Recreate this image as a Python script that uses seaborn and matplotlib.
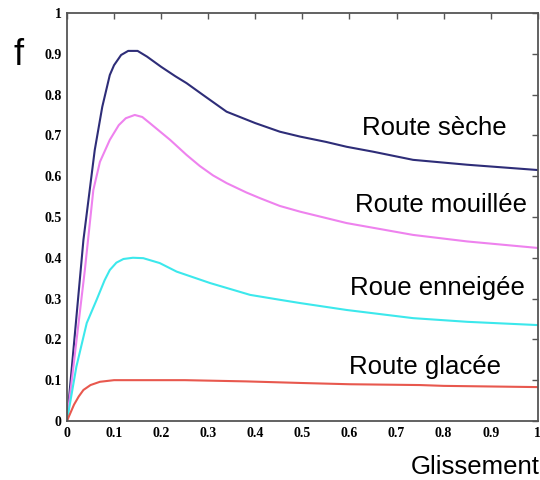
import numpy as np
import pandas as pd
import matplotlib
matplotlib.use('Agg')
import matplotlib.pyplot as plt
import seaborn as sns

# curve points (slip, friction coefficient)
seche_x = [0, 0.035, 0.059, 0.075, 0.091, 0.1, 0.115, 0.13, 0.15, 0.17, 0.2, 0.23, 0.254, 0.289, 0.339,
           0.4, 0.452, 0.495, 0.55, 0.594, 0.65, 0.735, 0.85, 1.0]
seche_y = [0, 0.444, 0.664, 0.77, 0.848, 0.872, 0.897, 0.907, 0.907, 0.893, 0.868, 0.845, 0.828, 0.799, 0.758,
           0.73, 0.709, 0.697, 0.684, 0.672, 0.66, 0.64, 0.628, 0.615]

mouillee_x = [0, 0.038, 0.056, 0.07, 0.091, 0.11, 0.125, 0.144, 0.16, 0.176, 0.219, 0.254, 0.282, 0.31, 0.339,
              0.381, 0.41, 0.452, 0.495, 0.594, 0.735, 0.85, 1.0]
mouillee_y = [0, 0.37, 0.566, 0.635, 0.689, 0.725, 0.742, 0.75, 0.745, 0.73, 0.689, 0.652, 0.625, 0.602, 0.583,
              0.56, 0.546, 0.527, 0.513, 0.485, 0.456, 0.44, 0.424]

neige_x = [0, 0.02, 0.042, 0.063, 0.08, 0.091, 0.105, 0.12, 0.14, 0.162, 0.197, 0.233, 0.304, 0.389,
           0.452, 0.495, 0.594, 0.735, 0.85, 1.0]
neige_y = [0, 0.133, 0.24, 0.297, 0.345, 0.37, 0.388, 0.397, 0.40, 0.399, 0.387, 0.366, 0.338, 0.309,
           0.297, 0.289, 0.272, 0.252, 0.243, 0.235]

glace_x = [0, 0.015, 0.025, 0.035, 0.05, 0.07, 0.1, 0.25, 0.38, 0.5, 0.6, 0.75, 0.8, 1.0]
glace_y = [0, 0.04, 0.06, 0.076, 0.088, 0.096, 0.1, 0.1, 0.097, 0.093, 0.09, 0.088, 0.086, 0.083]

labels = ['Route sèche', 'Route mouillée', 'Roue enneigée', 'Route glacée']
colors = ['#2e2d78', '#ee82ee', '#3ce8ec', '#e8584e']
ticks = [0, 0.1, 0.2, 0.3, 0.4, 0.5, 0.6, 0.7, 0.8, 0.9, 1]
tick_labels = ['0', '0.1', '0.2', '0.3', '0.4', '0.5', '0.6', '0.7', '0.8', '0.9', '1']

frames = []
for name, xs, ys in zip(labels, [seche_x, mouillee_x, neige_x, glace_x],
                        [seche_y, mouillee_y, neige_y, glace_y]):
    frames.append(pd.DataFrame({'glissement': xs, 'f': ys, 'route': name}))
df = pd.concat(frames, ignore_index=True)

sns.set_style('white')
plt.rcParams['font.family'] = ['Liberation Sans', 'DejaVu Sans']
plt.rcParams['text.color'] = 'black'
plt.rcParams['xtick.color'] = 'black'
plt.rcParams['ytick.color'] = 'black'

fig = plt.figure(figsize=(5.4, 4.8), dpi=100)
ax = fig.add_axes([0.124, 0.123, 0.872, 0.85])

sns.lineplot(data=df, x='glissement', y='f', hue='route', palette=colors,
             hue_order=labels, estimator=None, sort=False, legend=False,
             linewidth=1.5, ax=ax)

ax.set_xlim(0, 1)
ax.set_ylim(0, 1)
ax.set_xticks(ticks)
ax.set_yticks(ticks)
ax.set_xticklabels(tick_labels, family='Liberation Serif', fontweight='bold', fontsize=10)
ax.set_yticklabels(tick_labels, family='Liberation Serif', fontweight='bold', fontsize=10)
ax.tick_params(direction='in', top=True, right=True, length=4, width=1, color='#555555',
               labelcolor='black', pad=4)
ax.set_xlabel('')
ax.set_ylabel('')
for sp in ax.spines.values():
    sp.set_color('#555555')
    sp.set_linewidth(1.3)

# curve names
ax.text(0.78, 0.718, 'Route sèche', fontsize=18.5, ha='center', va='center', color='black')
ax.text(0.794, 0.53, 'Route mouillée', fontsize=18.5, ha='center', va='center', color='black')
ax.text(0.786, 0.326, 'Roue enneigée', fontsize=18.5, ha='center', va='center', color='black')
ax.text(0.76, 0.132, 'Route glacée', fontsize=18.5, ha='center', va='center', color='black')

fig.text(0.034, 0.885, 'f', fontsize=26, ha='center', va='center', color='black')
fig.text(1.0, 0.027, 'Glissement', fontsize=18.5, ha='right', va='center', color='black')

fig.savefig('out.png', dpi=100)
